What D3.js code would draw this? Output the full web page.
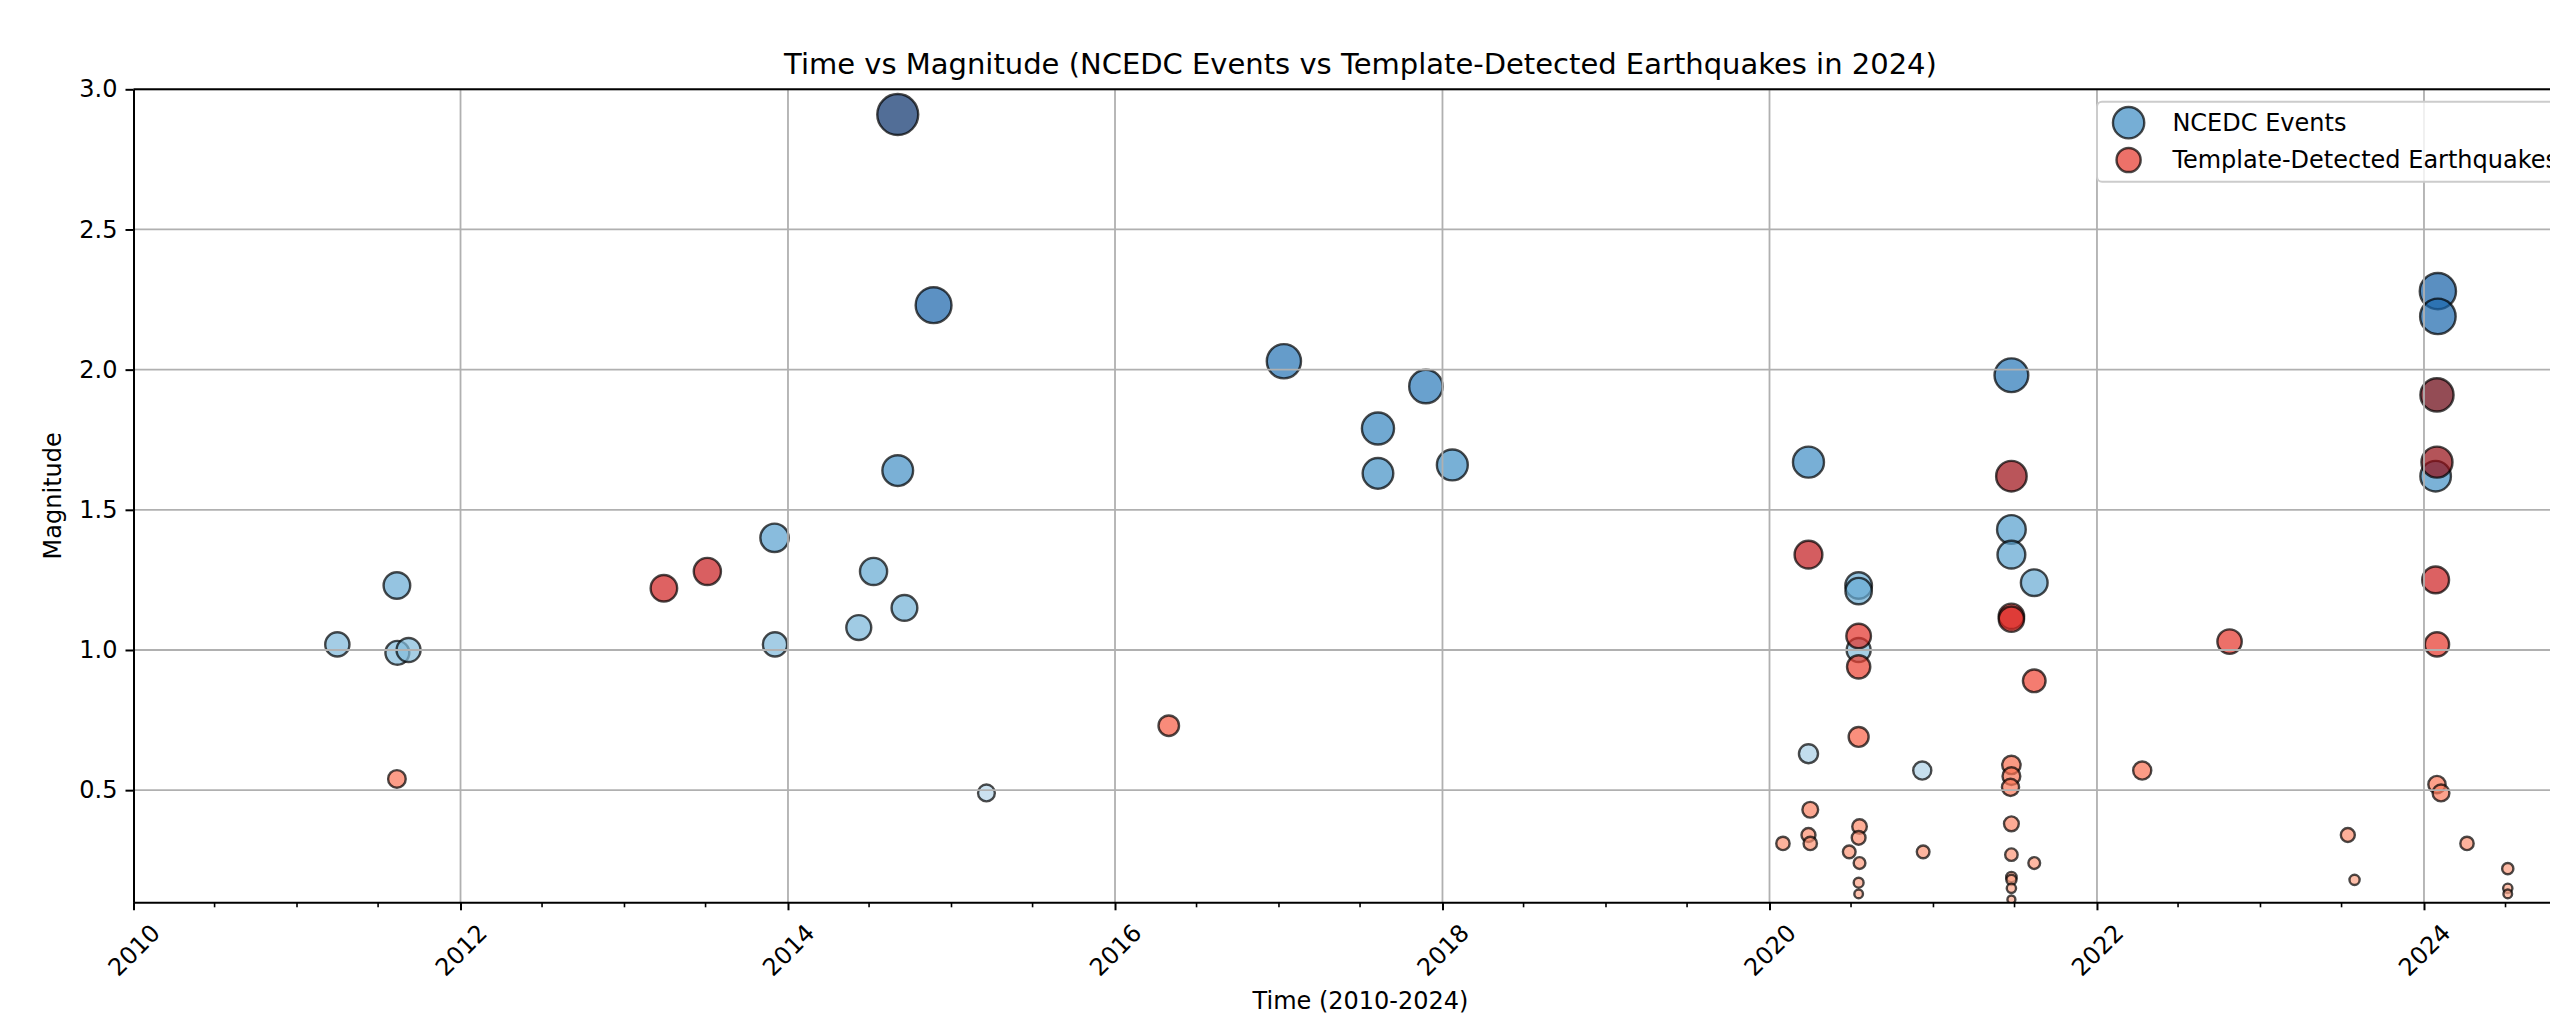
<!DOCTYPE html>
<html>
<head>
<meta charset="utf-8">
<script src="https://cdn.jsdelivr.net/npm/d3@7"></script>
<style>
  body { margin: 0; background: #fff; }
  svg { display: block; font-family: 'DejaVu Sans', sans-serif; }
</style>
</head>
<body>
<div id="chart"></div>
<script>
// NCEDC catalogue events (date, magnitude)
var ncedcDates = [
  '2011-04-01', '2011-08-12', '2011-08-13', '2011-09-07',
  '2013-12-02', '2013-12-03', '2014-06-08', '2014-07-11',
  '2014-09-03', '2014-09-03', '2014-09-18', '2014-11-22',
  '2015-03-20', '2017-01-12', '2017-08-10', '2017-08-10',
  '2017-11-25', '2018-01-23', '2020-03-28', '2020-03-28',
  '2020-07-18', '2020-07-18', '2020-07-18', '2020-12-07',
  '2021-06-24', '2021-06-24', '2021-06-24', '2021-08-14',
  '2024-02-01', '2024-02-01', '2024-01-27'
];
var ncedcMags = [
  1.02, 1.23, 0.99, 1.00,
  1.40, 1.02, 1.08, 1.28,
  2.91, 1.64, 1.15, 2.23,
  0.49, 2.03, 1.79, 1.63,
  1.94, 1.66, 1.67, 0.63,
  1.23, 1.21, 1.00, 0.57,
  1.98, 1.43, 1.34, 1.24,
  2.28, 2.19, 1.62
];

// template-detected earthquakes (date, magnitude)
var templateDates = [
  '2011-08-12', '2013-03-30', '2013-07-05', '2016-04-30',
  '2020-01-31', '2020-03-28', '2020-04-01', '2020-03-28', '2020-04-01',
  '2020-06-27', '2020-07-18', '2020-07-18', '2020-07-18', '2020-07-20',
  '2020-07-18', '2020-07-20', '2020-07-18', '2020-07-18', '2020-12-09',
  '2021-06-24', '2021-06-24', '2021-06-24', '2021-06-24', '2021-06-24',
  '2021-06-22', '2021-06-24', '2021-06-24', '2021-06-24', '2021-06-24',
  '2021-06-24', '2021-06-24', '2021-08-14', '2021-08-14',
  '2022-04-12', '2022-10-24', '2023-07-15', '2023-07-30',
  '2024-01-30', '2024-01-30', '2024-01-27', '2024-01-30', '2024-01-30',
  '2024-02-08', '2024-04-06', '2024-07-06', '2024-07-06', '2024-07-06'
];
var templateMags = [
  0.54, 1.22, 1.28, 0.73,
  0.31, 1.34, 0.43, 0.34, 0.31,
  0.28, 1.05, 0.94, 0.69, 0.37,
  0.33, 0.24, 0.17, 0.13, 0.28,
  1.62, 1.12, 1.11, 0.59, 0.55,
  0.51, 0.38, 0.27, 0.19, 0.18,
  0.15, 0.11, 0.89, 0.24,
  0.57, 1.03, 0.34, 0.18,
  1.91, 1.67, 1.25, 1.02, 0.52,
  0.49, 0.31, 0.22, 0.15, 0.13
];

var xTickYears = [2010, 2012, 2014, 2016, 2018, 2020, 2022, 2024];
var yTicks = [0.5, 1.0, 1.5, 2.0, 2.5, 3.0];
var legendLabels = ['NCEDC Events', 'Template-Detected Earthquakes'];

var titleText = 'Time vs Magnitude (NCEDC Events vs Template-Detected Earthquakes in 2024)';
var xLabelText = 'Time (2010-2024)';
var yLabelText = 'Magnitude';

// canvas / plot box
var width = 2550;
var height = 1019;
var plot = {left: 133.5, top: 89.3, right: 2587.5, bottom: 902.3};
var fontSize = 24;

var parseDate = d3.utcParse('%Y-%m-%d');

var x = d3.scaleUtc()
  .domain([new Date(Date.UTC(2010, 0, 1)), new Date(Date.UTC(2024, 11, 31))])
  .range([plot.left, plot.right]);

var y = d3.scaleLinear()
  .domain([0.1, 3.0])
  .range([plot.bottom, plot.top]);

// marker area grows with magnitude
var r = d3.scaleSqrt().domain([0, 3]).range([0, 12 * Math.sqrt(3)]);

function seqColor(interp, mags) {
  return d3.scaleSequential(function(t) {
    return interp(0.3 + 0.7 * t);
  }).domain(d3.extent(mags));
}

var series = [
  {label: legendLabels[0], dates: ncedcDates, mags: ncedcMags,
    color: seqColor(d3.interpolateBlues, ncedcMags)},
  {label: legendLabels[1], dates: templateDates, mags: templateMags,
    color: seqColor(d3.interpolateReds, templateMags)}
];
series.forEach(function(s) {
  s.points = s.mags.map(function(m, i) {
    return {date: parseDate(s.dates[i]), mag: m};
  });
});

var svg = d3.select('#chart').append('svg')
  .attr('width', width)
  .attr('height', height);

svg.append('rect')
  .attr('width', width).attr('height', height)
  .attr('fill', '#fff');

svg.append('clipPath').attr('id', 'plot-clip')
  .append('rect')
  .attr('x', plot.left).attr('y', plot.top)
  .attr('width', plot.right - plot.left)
  .attr('height', plot.bottom - plot.top);

// scatter markers
var markG = svg.append('g').attr('clip-path', 'url(#plot-clip)');
series.forEach(function(s) {
  markG.append('g').selectAll('circle')
    .data(s.points)
    .enter()
    .append('circle')
    .attr('cx', function(d) { return x(d.date); })
    .attr('cy', function(d) { return y(d.mag); })
    .attr('r', function(d) { return r(d.mag); })
    .attr('fill', function(d) { return s.color(d.mag); })
    .attr('fill-opacity', 0.7)
    .attr('stroke', '#000')
    .attr('stroke-opacity', 0.7)
    .attr('stroke-width', 2.4);
});

// grid lines (drawn over the markers, like matplotlib)
var majorDates = xTickYears.map(function(yr) { return new Date(Date.UTC(yr, 0, 1)); });
var gridG = svg.append('g').attr('clip-path', 'url(#plot-clip)');
gridG.selectAll('.vgrid')
  .data(majorDates)
  .enter()
  .append('line')
  .attr('x1', function(d) { return x(d); })
  .attr('x2', function(d) { return x(d); })
  .attr('y1', plot.top).attr('y2', plot.bottom)
  .attr('stroke', '#b0b0b0')
  .attr('stroke-width', 1.8);
gridG.selectAll('.hgrid')
  .data(yTicks)
  .enter()
  .append('line')
  .attr('x1', plot.left).attr('x2', plot.right)
  .attr('y1', function(d) { return y(d); })
  .attr('y2', function(d) { return y(d); })
  .attr('stroke', '#b0b0b0')
  .attr('stroke-width', 1.8);

// minor x ticks every six months
var minorDates = d3.utcMonth.every(6).range(x.domain()[0], x.domain()[1])
  .filter(function(d) { return d.getUTCMonth() !== 0 || d.getUTCFullYear() % 2 !== 0; });
svg.append('g').selectAll('line')
  .data(minorDates)
  .enter()
  .append('line')
  .attr('x1', function(d) { return x(d); })
  .attr('x2', function(d) { return x(d); })
  .attr('y1', plot.bottom).attr('y2', plot.bottom + 5)
  .attr('stroke', '#000')
  .attr('stroke-width', 1.6);

// x axis
var xAxisG = svg.append('g')
  .attr('transform', 'translate(0,' + plot.bottom + ')')
  .call(d3.axisBottom(x)
    .tickValues(majorDates)
    .tickFormat(d3.utcFormat('%Y'))
    .tickSize(8)
    .tickSizeOuter(0));
xAxisG.selectAll('text')
  .attr('y', 0)
  .attr('dy', '0.35em')
  .attr('text-anchor', 'middle')
  .attr('transform', 'translate(0,47.7) rotate(-45)');

// y axis
var yAxisG = svg.append('g')
  .attr('transform', 'translate(' + plot.left + ',0)')
  .call(d3.axisLeft(y)
    .tickValues(yTicks)
    .tickFormat(d3.format('.1f'))
    .tickSize(8)
    .tickPadding(8)
    .tickSizeOuter(0));

[xAxisG, yAxisG].forEach(function(g) {
  g.attr('font-family', null).attr('font-size', null);
  g.selectAll('text').attr('fill', '#000').style('font-size', fontSize + 'px');
  g.selectAll('line').attr('stroke', '#000').attr('stroke-width', 2);
  g.select('.domain').attr('stroke', '#000').attr('stroke-width', 2);
});

// top spine
svg.append('line')
  .attr('x1', plot.left).attr('x2', plot.right)
  .attr('y1', plot.top).attr('y2', plot.top)
  .attr('stroke', '#000').attr('stroke-width', 2);
svg.append('line')
  .attr('x1', plot.right).attr('x2', plot.right)
  .attr('y1', plot.top).attr('y2', plot.bottom)
  .attr('stroke', '#000').attr('stroke-width', 2);

// title and axis labels
svg.append('text')
  .attr('x', (plot.left + plot.right) / 2)
  .attr('y', 73.5)
  .attr('text-anchor', 'middle')
  .style('font-size', '29px')
  .text(titleText);

svg.append('text')
  .attr('x', (plot.left + plot.right) / 2)
  .attr('y', 1009)
  .attr('text-anchor', 'middle')
  .style('font-size', fontSize + 'px')
  .text(xLabelText);

svg.append('text')
  .attr('transform', 'translate(60.5,' + (plot.top + plot.bottom) / 2 + ') rotate(-90)')
  .attr('text-anchor', 'middle')
  .style('font-size', fontSize + 'px')
  .text(yLabelText);

// legend
var legendG = svg.append('g').attr('transform', 'translate(2097,101.7)');
legendG.append('rect')
  .attr('width', 470).attr('height', 80)
  .attr('rx', 5).attr('ry', 5)
  .attr('fill', '#fff').attr('fill-opacity', 0.8)
  .attr('stroke', '#cccccc').attr('stroke-width', 2);

var legendRows = [21, 58.3];
series.forEach(function(s, i) {
  var ext = d3.extent(s.mags);
  var mid = (ext[0] + ext[1]) / 2;
  legendG.append('circle')
    .attr('cx', 31.6).attr('cy', legendRows[i])
    .attr('r', r(mid))
    .attr('fill', s.color(mid)).attr('fill-opacity', 0.7)
    .attr('stroke', '#000').attr('stroke-opacity', 0.7)
    .attr('stroke-width', 2.4);
  legendG.append('text')
    .attr('x', 75.4).attr('y', legendRows[i] + 8.5)
    .style('font-size', fontSize + 'px')
    .text(s.label);
});
</script>
</body>
</html>
